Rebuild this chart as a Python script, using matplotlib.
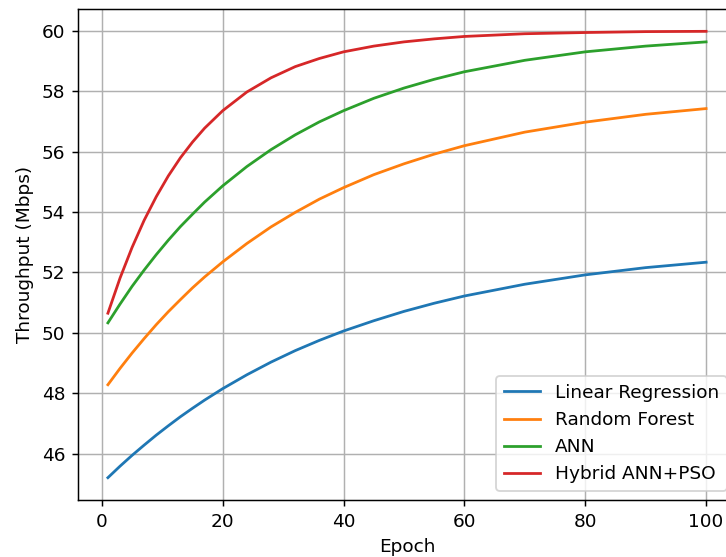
import matplotlib
matplotlib.use("Agg")
import matplotlib.pyplot as plt

epochs = [1, 3, 5, 7, 9, 11, 13, 15, 17, 20, 24, 28, 32, 36, 40, 45, 50, 55, 60, 70, 80, 90, 100]

linear_regression = [45.20, 45.58, 45.94, 46.28, 46.61, 46.92, 47.22, 47.50, 47.77, 48.15,
                     48.61, 49.03, 49.41, 49.75, 50.06, 50.40, 50.71, 50.98, 51.22, 51.61,
                     51.92, 52.16, 52.34]
random_forest = [48.28, 48.82, 49.33, 49.81, 50.27, 50.70, 51.10, 51.49, 51.85, 52.35,
                 52.96, 53.51, 53.99, 54.43, 54.81, 55.24, 55.60, 55.92, 56.20, 56.65,
                 56.98, 57.24, 57.43]
ann = [50.33, 50.95, 51.54, 52.08, 52.59, 53.07, 53.52, 53.93, 54.33, 54.87,
       55.51, 56.07, 56.56, 56.99, 57.36, 57.77, 58.11, 58.40, 58.65, 59.03,
       59.31, 59.50, 59.64]
hybrid = [50.65, 51.81, 52.83, 53.73, 54.51, 55.20, 55.80, 56.32, 56.78, 57.36,
          57.98, 58.45, 58.82, 59.09, 59.31, 59.50, 59.64, 59.74, 59.82, 59.91,
          59.95, 59.98, 59.99]

series_names = ["Linear Regression", "Random Forest", "ANN", "Hybrid ANN+PSO"]
series_values = [linear_regression, random_forest, ann, hybrid]

DPI = 132.8
fig = plt.figure(figsize=(726 / DPI, 557 / DPI), dpi=DPI)
ax = fig.add_axes([78 / 726, 57 / 557, 658 / 726, 491 / 557])

for name, vals in zip(series_names, series_values):
    ax.plot(epochs, vals, label=name)

ax.set_xlabel("Epoch")
ax.set_ylabel("Throughput (Mbps)")
ax.grid(True)
ax.legend(loc="lower right")

fig.savefig("out.png", dpi=DPI)
